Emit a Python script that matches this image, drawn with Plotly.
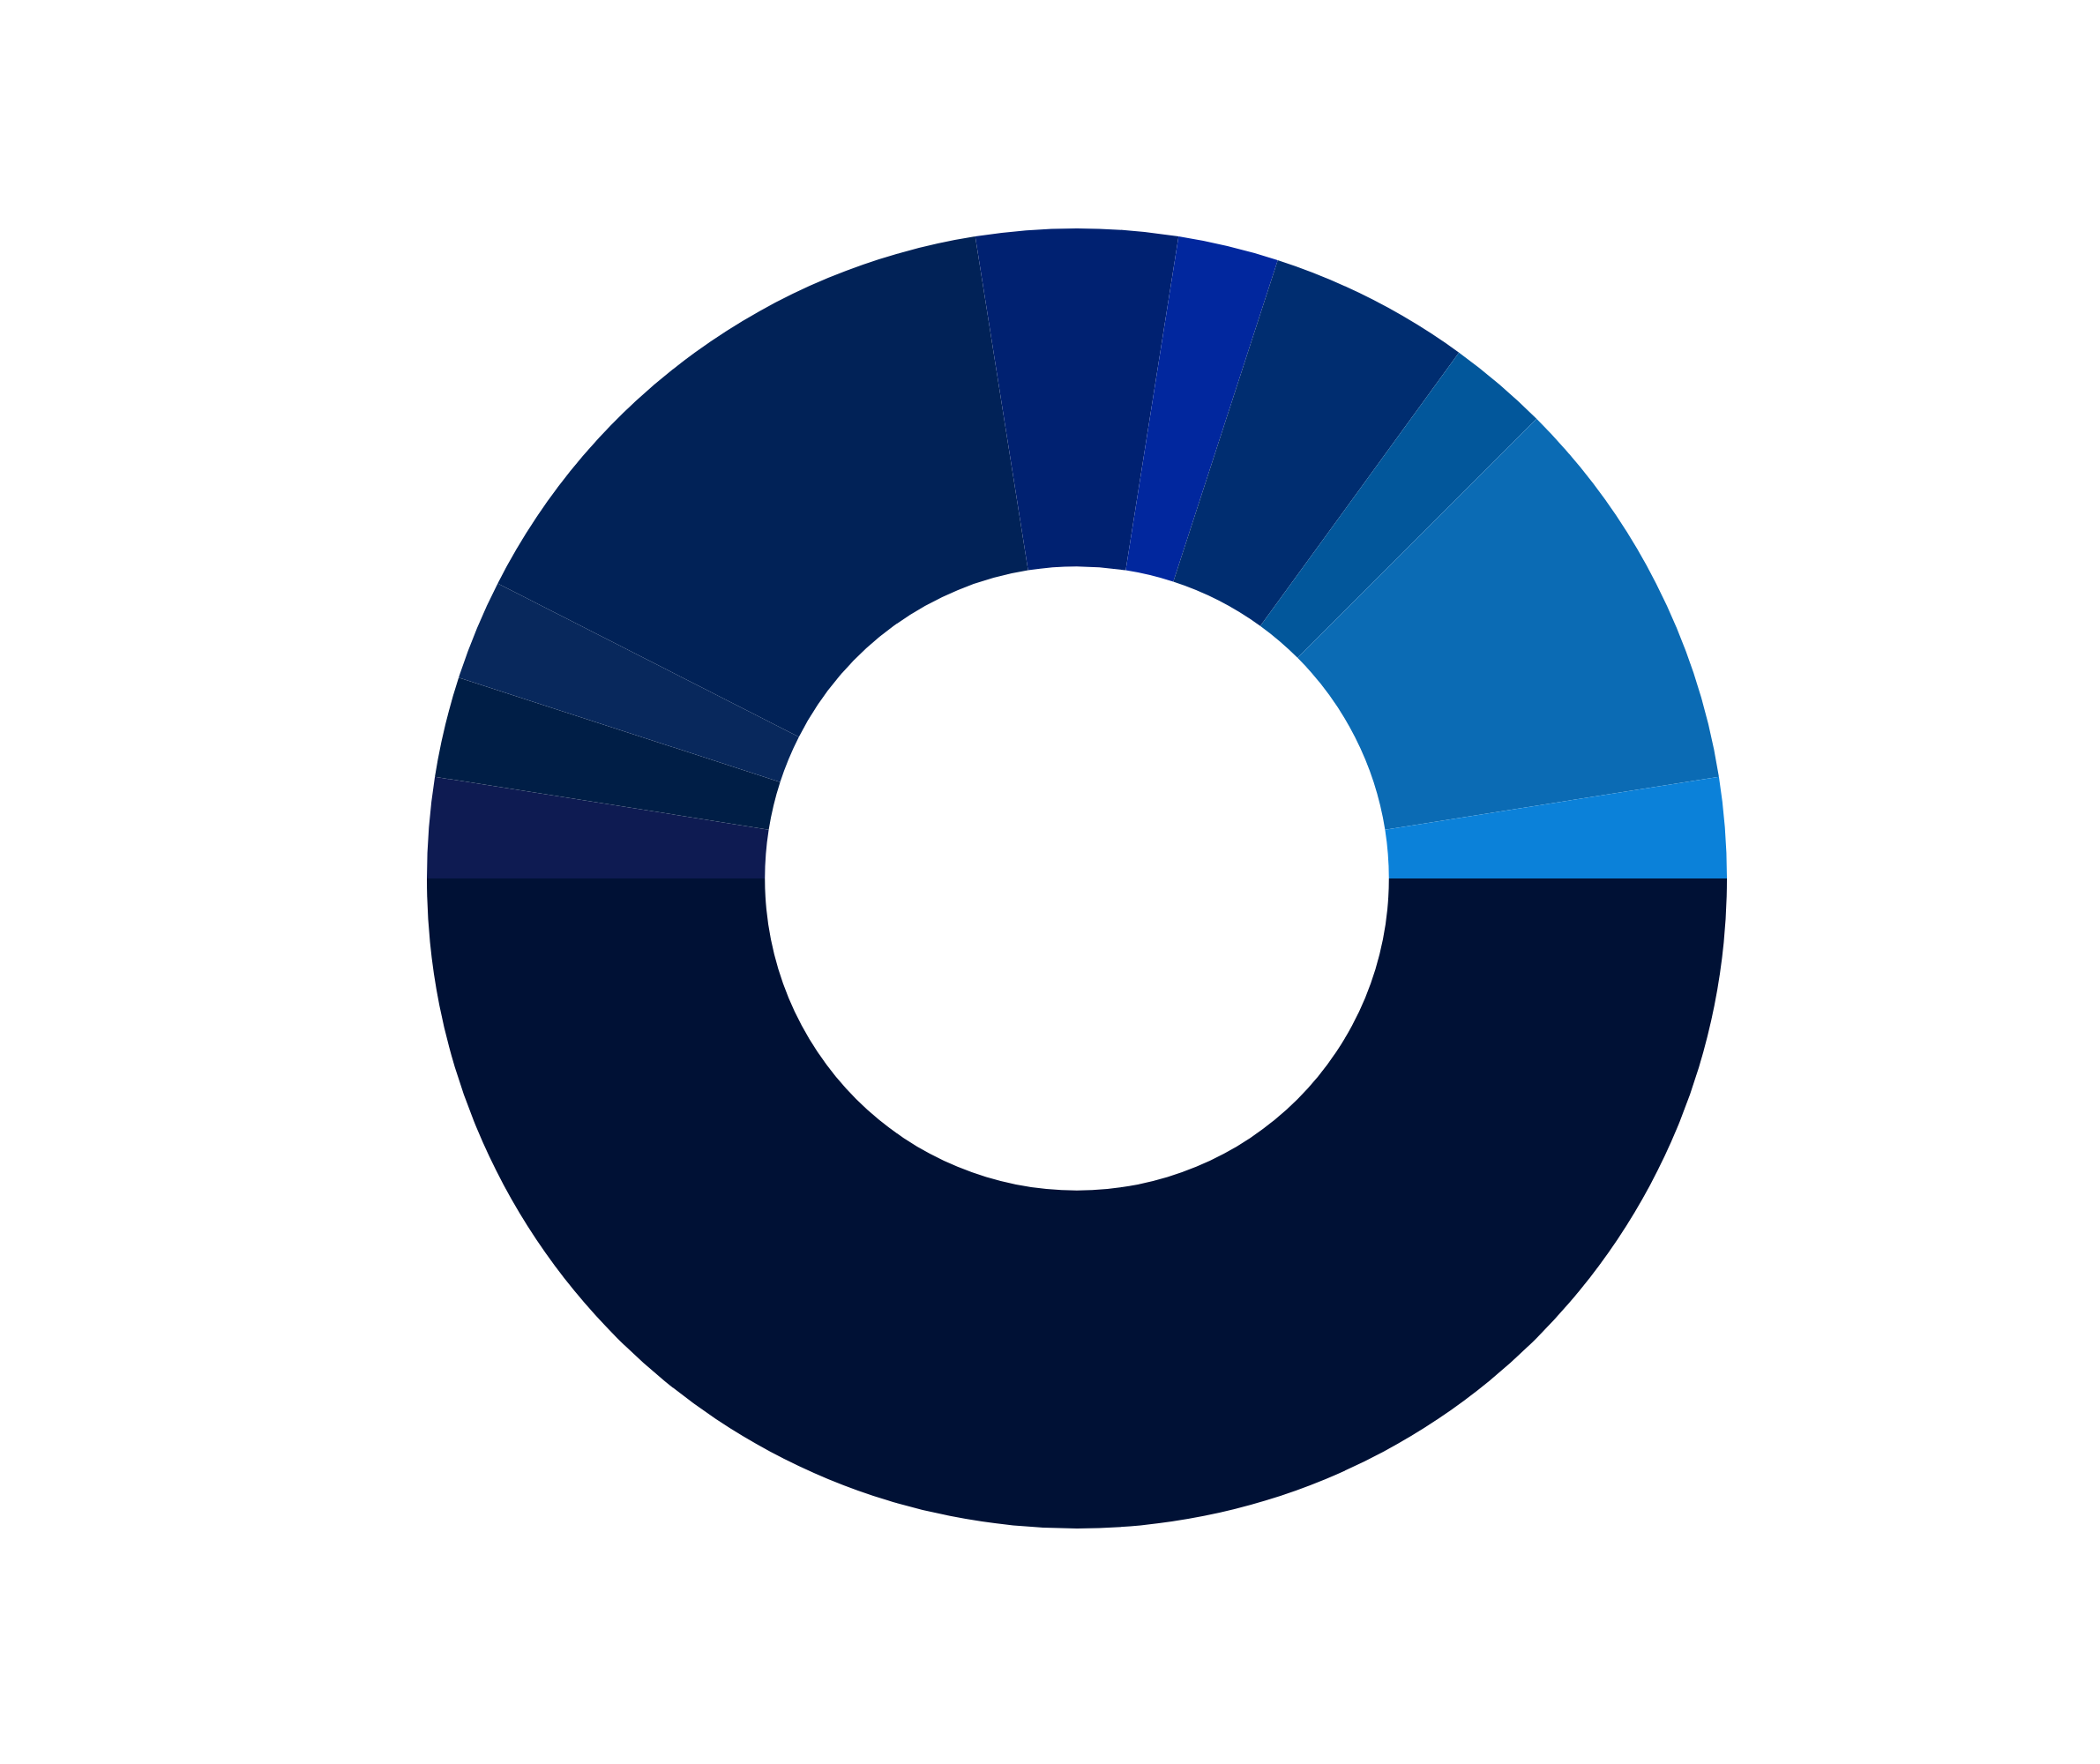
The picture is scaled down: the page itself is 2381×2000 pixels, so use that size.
import plotly.graph_objects as go

# slices listed from 9 o'clock going clockwise
labels = ["A", "B", "C", "D", "E", "F", "G", "H", "I", "J", "K"]
values = [1, 1, 1, 6, 2, 1, 2, 1, 4, 1, 20]
colors = ["#0e1b52", "#001e46", "#08285c", "#012257", "#002171",
          "#01279e", "#002d70", "#02579b", "#0b6bb4", "#0b81d9", "#001135"]

fig = go.Figure()
fig.add_trace(go.Pie(
    labels=labels,
    values=values,
    sort=False,
    direction="clockwise",
    rotation=-90,
    hole=0.48,
    textinfo="none",
    hoverinfo="skip",
    marker=dict(colors=colors, line=dict(width=0)),
))

fig.update_layout(
    width=2381,
    height=2000,
    showlegend=False,
    paper_bgcolor="white",
    plot_bgcolor="white",
    margin=dict(l=192, r=147, t=251, b=275),
)

fig.write_html("out.html")
